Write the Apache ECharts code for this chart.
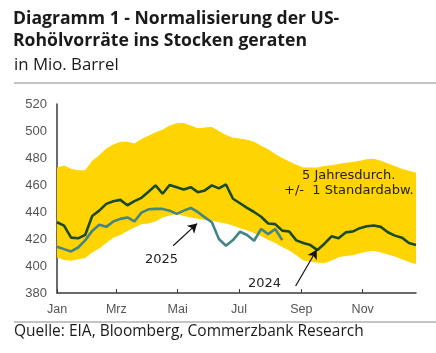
<!DOCTYPE html>
<html>
<head>
<meta charset="utf-8">
<script src="https://cdn.jsdelivr.net/npm/echarts@6/dist/echarts.min.js"></script>
<style>
  html, body { margin: 0; padding: 0; background: #fff; }
  #chart { width: 436px; height: 353px; }
</style>
</head>
<body>
<div id="chart"></div>
<script>
// Wochen-Index 0..51, Monatsbeschriftung an Monatsanfaengen
var monthLabels = ['Jan', 'Mrz', 'Mai', 'Jul', 'Sep', 'Nov'];
var monthWeeks = [0, 8.43, 17.14, 25.86, 34.71, 43.43];
var yTicks = [380, 400, 420, 440, 460, 480, 500, 520];

// 5-Jahresdurchschnitt +/- 1 Standardabweichung
var bandUpper = [473, 474.5, 472, 471, 471, 478, 482, 487, 490, 492, 492, 490.7, 494, 496.5, 499, 501, 504, 505.8,
  506, 504, 502, 502.6, 503, 500, 497, 495, 494.5, 493.5, 492, 489, 486.5, 483, 480, 477.5, 475, 473, 473, 473,
  474, 474.6, 475.5, 476.5, 477, 478, 479, 479.5, 478, 476, 474, 472, 470.5, 469];
var bandLower = [406.3, 404.5, 403.8, 405, 406, 410, 413, 417, 421, 423, 426, 428.5, 431, 431.5, 433, 436, 437.5,
  438.6, 437, 436, 435, 434, 433.5, 432.5, 431.5, 430, 428, 426.5, 424.5, 422, 419.5, 417, 414, 411.5, 408, 404,
  403.2, 402.6, 402, 404, 406.5, 407.5, 408, 409.5, 410.5, 411.3, 410, 408.5, 407, 405, 403, 401.4];

var stocks2024 = [432.4, 429.9, 421, 420.5, 423, 437, 441, 446, 448, 449, 445, 448, 450.5, 455, 459.7, 453.5, 460,
  458.4, 456.6, 458.4, 454.7, 456, 459.7, 457.5, 460.4, 449.8, 446.5, 443, 440, 436.5, 431.5, 431, 426.2, 425.5,
  419, 417, 415.5, 411.8, 416.5, 422, 420.5, 424.9, 425.5, 428, 429.5, 430, 429, 425, 422.5, 421, 417, 415.5];
var stocks2025 = [414.3, 412.5, 410.8, 413.7, 419, 426, 430.5, 429, 433, 434.9, 436, 433, 439.5, 442, 442.3, 442.3,
  441, 438.6, 441, 443, 440, 436, 432.4, 420, 415, 419.2, 425.4, 423, 418.7, 427.4, 423.6, 427.4, 419.2];

// Pfeile: [von, nach] in Datenkoordinaten (Woche, Mio. Barrel)
var arrow2025 = [[16.5, 415], [19.9, 431.4]];
var arrow2024 = [[33.9, 385.2], [36.9, 412]];

function pairs(arr) {
  return arr.map(function (v, i) { return [i, v]; });
}

var chart = echarts.init(document.getElementById('chart'), null, { renderer: 'canvas' });

var axisFont = 'Liberation Sans, Arial, sans-serif';
var titleFont = 'Open Sans, Lato, sans-serif';
var noteFont = '13px DejaVu Sans, sans-serif';

// Band als Polygon: obere Kante vorwaerts, untere Kante rueckwaerts
function renderBand(params, api) {
  var pts = [];
  for (var i = 0; i < bandUpper.length; i++) {
    pts.push(api.coord([i, bandUpper[i]]));
  }
  for (var j = bandLower.length - 1; j >= 0; j--) {
    pts.push(api.coord([j, bandLower[j]]));
  }
  return {
    type: 'polygon',
    shape: { points: pts },
    style: { fill: '#FFD400', stroke: null }
  };
}

var option = {
  animation: false,
  grid: { left: 57, right: 20, top: 104, bottom: 60 },
  xAxis: {
    type: 'value',
    min: 0,
    max: 51,
    axisLine: { show: true, lineStyle: { color: '#3a3a3a', width: 1.5 } },
    axisTick: { show: true, inside: true, length: 4, customValues: monthWeeks, lineStyle: { color: '#3a3a3a' } },
    axisLabel: {
      customValues: monthWeeks,
      margin: 10,
      color: '#555',
      fontFamily: axisFont,
      fontSize: 12.5,
      formatter: function (v) {
        var idx = monthWeeks.indexOf(v);
        return idx >= 0 ? monthLabels[idx] : '';
      }
    },
    splitLine: { show: false }
  },
  yAxis: {
    type: 'value',
    min: 380,
    max: 520,
    interval: 20,
    axisLine: { show: true, lineStyle: { color: '#3a3a3a', width: 1.5 } },
    axisTick: { show: false },
    axisLabel: { color: '#555', fontFamily: axisFont, fontSize: 13, margin: 10 },
    splitLine: { show: false }
  },
  series: [
    {
      name: '5 Jahresdurch. +/- 1 Standardabw.',
      type: 'custom',
      renderItem: renderBand,
      data: [[0, bandLower[0]]],
      encode: { x: 0, y: 1 },
      silent: true,
      z: 1
    },
    {
      name: '2025',
      type: 'line',
      data: pairs(stocks2025),
      symbol: 'none',
      lineStyle: { color: '#458587', width: 2.6 },
      z: 3
    },
    {
      name: '2024',
      type: 'line',
      data: pairs(stocks2024),
      symbol: 'none',
      lineStyle: { color: '#1a4a2c', width: 2.6 },
      z: 4,
      markLine: {
        silent: true,
        symbol: ['none', 'arrow'],
        symbolSize: [8, 9],
        lineStyle: { color: '#111', width: 1.2, type: 'solid' },
        label: { show: false },
        data: [
          [{ coord: arrow2025[0] }, { coord: arrow2025[1] }],
          [{ coord: arrow2024[0] }, { coord: arrow2024[1] }]
        ]
      }
    }
  ],
  graphic: [
    {
      type: 'text', left: 13, top: 10,
      style: { text: 'Diagramm 1 - Normalisierung der US-', font: 'bold 17.6px ' + titleFont, fill: '#1a1a1a' }
    },
    {
      type: 'text', left: 13, top: 32,
      style: { text: 'Rohölvorräte ins Stocken geraten', font: 'bold 17.6px ' + titleFont, fill: '#1a1a1a' }
    },
    {
      type: 'text', left: 14, top: 57,
      style: { text: 'in Mio. Barrel', font: '16.8px ' + titleFont, fill: '#1a1a1a' }
    },
    {
      type: 'rect', shape: { x: 14, y: 82, width: 422, height: 2 },
      style: { fill: '#c4c4c4' }
    },
    {
      type: 'rect', shape: { x: 14, y: 321, width: 422, height: 2 },
      style: { fill: '#c4c4c4' }
    },
    {
      type: 'text', left: 14, top: 324,
      style: { text: 'Quelle: EIA, Bloomberg, Commerzbank Research', font: '15.5px ' + titleFont, fill: '#1a1a1a' }
    },
    {
      type: 'text', left: 302, top: 169, z: 100,
      style: { text: '5 Jahresdurch.', font: noteFont, fill: '#222' }
    },
    {
      type: 'text', left: 284, top: 184, z: 100,
      style: { text: '+/-  1 Standardabw.', font: noteFont, fill: '#222' }
    },
    {
      type: 'text', left: 145, top: 253, z: 100,
      style: { text: '2025', font: noteFont, fill: '#222' }
    },
    {
      type: 'text', left: 248, top: 277, z: 100,
      style: { text: '2024', font: noteFont, fill: '#222' }
    }
  ]
};

chart.setOption(option);
</script>
</body>
</html>
